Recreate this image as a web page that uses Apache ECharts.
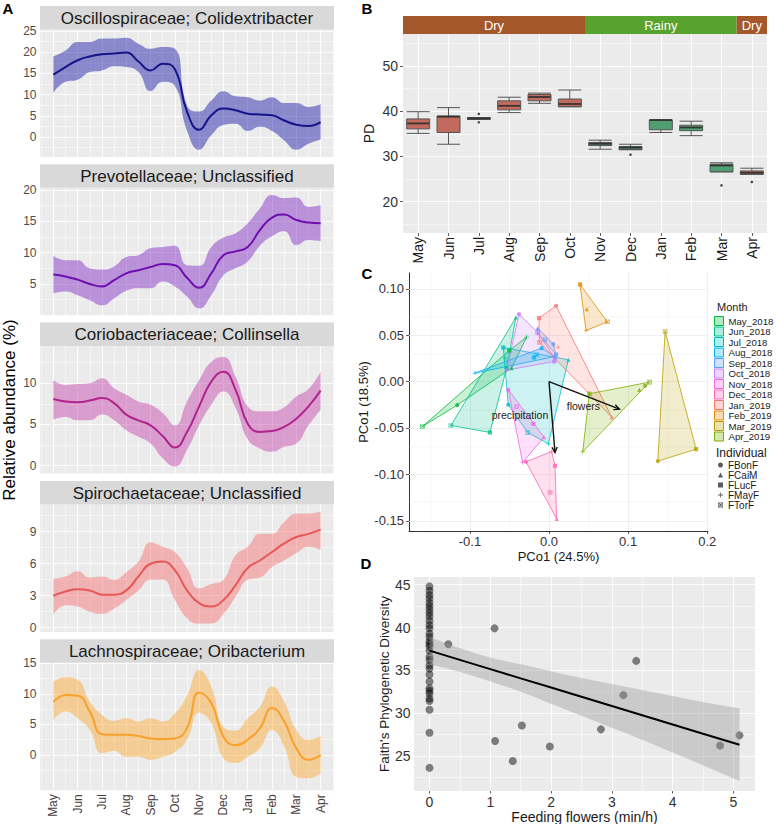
<!DOCTYPE html>
<html>
<head>
<meta charset="utf-8">
<script src="https://cdn.jsdelivr.net/npm/echarts@6.0.0/dist/echarts.min.js"></script>
<style>
html,body{margin:0;padding:0;background:#ffffff;}
#chart{width:776px;height:824px;}
</style>
</head>
<body>
<div id="chart"></div>
<script>
// ================= DATA =================
// ---- Panel A: smoothed relative abundance (fit, upper, lower) ----
const monthLabels = ['May','Jun','Jul','Aug','Sep','Oct','Nov','Dec','Jan','Feb','Mar','Apr'];
const monthTicks = [0,1,2,3,4,5,6,7,8,9,10,11];
const monthMinorTicks = [-0.5,0.5,1.5,2.5,3.5,4.5,5.5,6.5,7.5,8.5,9.5,10.5,11.5];
const aSampleX = [0,0.5,1,1.5,2,2.5,3,3.5,4,4.5,5,5.5,6,6.5,7,7.5,8,8.5,9,9.5,10,10.5,11];
const aTitles = ['Oscillospiraceae; Colidextribacter','Prevotellaceae; Unclassified','Coriobacteriaceae; Collinsella','Spirochaetaceae; Unclassified','Lachnospiraceae; Oribacterium'];

const oscFit   = [14.7,16.5,18.1,19.0,19.5,19.7,19.9,17.8,15.7,17.3,16.0,6.0,1.7,5.1,6.7,6.3,5.5,5.3,5.1,3.9,2.9,2.6,3.5];
const oscHigh  = [19.0,20.4,22.4,22.4,23.2,23.2,23.4,22.0,20.8,21.2,20.8,7.5,6.0,8.6,10.8,9.6,9.4,8.6,9.4,8.0,8.0,7.1,7.7];
const oscLow   = [10.4,13.0,13.5,15.3,15.7,16.7,16.5,15.3,10.8,13.0,12.0,1.5,-3.0,0.4,2.8,3.1,1.4,2.4,1.4,-0.8,-3.0,-1.6,-0.6];

const prevFit  = [6.5,6.2,5.7,5.0,4.6,5.6,6.7,7.2,7.7,8.2,8.0,6.0,4.4,6.7,9.6,10.2,10.9,13.6,15.6,16.1,15.2,14.8,14.7];
const prevHigh = [9.5,8.8,8.8,7.5,7.3,7.8,9.3,9.6,10.7,10.9,11.1,8.0,7.9,10.9,12.4,13.1,14.7,17.1,19.2,18.7,18.8,17.3,17.6];
const prevLow  = [3.5,3.8,3.2,2.4,1.6,2.7,3.9,4.3,4.3,5.4,4.6,3.0,1.1,3.2,6.4,7.5,8.6,11.1,12.6,13.4,11.2,12.0,11.8];

const corioFit  = [8.1,7.8,7.7,7.9,8.2,7.6,6.2,5.5,4.9,3.6,2.2,4.1,7.2,10.2,11.4,9.2,5.1,4.1,4.2,4.7,5.7,7.2,9.1];
const corioHigh = [10.4,9.8,9.9,10.0,10.6,9.4,8.6,7.8,7.4,6.4,4.9,7.8,10.4,12.6,13.2,10.8,7.2,6.6,6.6,7.1,8.4,9.3,11.4];
const corioLow  = [5.6,5.9,5.5,5.5,6.2,5.5,4.3,3.5,2.7,0.9,-0.1,1.9,4.9,7.4,9.0,7.0,3.2,2.1,1.7,2.3,2.7,4.9,6.8];

const spiroFit  = [3.0,3.4,3.6,3.5,3.1,3.1,3.5,4.8,6.0,6.2,5.4,3.5,2.3,2.0,2.6,4.0,5.6,6.3,7.1,7.9,8.5,8.8,9.2];
const spiroHigh = [4.6,4.8,5.3,4.7,4.8,4.5,5.2,6.2,8.0,7.6,7.1,5.6,3.7,4.1,4.5,6.8,7.6,8.8,8.8,9.9,10.7,10.7,10.9];
const spiroLow  = [1.2,2.1,2.0,1.5,1.3,1.8,2.6,3.5,4.5,4.5,2.6,0.9,0.4,0.4,1.3,2.9,4.5,4.7,5.7,6.3,7.0,7.6,7.3];

const lachnoFit  = [8.7,9.8,9.7,7.1,3.4,3.3,3.3,3.1,2.7,2.6,2.7,4.4,10.2,8.5,3.0,1.6,2.5,4.4,7.7,5.5,1.1,-0.8,0.0];
const lachnoHigh = [12.0,12.7,12.3,8.7,6.6,5.6,6.0,5.5,6.0,5.5,6.8,9.7,13.9,11.2,4.6,4.0,6.0,7.9,11.2,8.7,4.1,2.5,3.1];
const lachnoLow  = [5.7,7.1,6.0,4.1,0.3,0.7,-0.3,-0.3,-0.8,-0.3,0.5,2.5,6.9,5.2,-0.5,-1.3,-0.3,1.1,4.1,1.4,-3.6,-3.8,-3.0];

const aYTicks = [[0,5,10,15,20,25],[5,10,15,20],[0,5,10],[0,3,6,9],[0,5,10,15]];
const aYMinorTicks = [[-2.5,2.5,7.5,12.5,17.5,22.5],[2.5,7.5,12.5,17.5],[2.5,7.5,12.5],[1.5,4.5,7.5,10.5],[-2.5,2.5,7.5,12.5]];

// ---- Panel B: PD boxplots ----
const bSeason = ['Dry','Dry','Dry','Dry','Dry','Dry','Rainy','Rainy','Rainy','Rainy','Rainy','Dry'];
const bMin    = [35.1,32.7,38.2,39.7,41.75,41.0,31.6,31.5,35.3,34.6,26.6,26.05];
const bQ1     = [36.1,35.3,38.2,40.3,42.3,41.0,32.4,31.5,35.9,35.7,26.6,26.05];
const bMedian = [37.3,38.8,38.4,41.2,43.15,41.6,32.8,31.95,38.05,36.4,28.0,26.4];
const bQ3     = [38.3,38.95,38.6,42.3,43.7,42.7,33.1,32.2,38.05,36.9,28.3,26.8];
const bMax    = [39.9,40.8,38.6,43.1,44.0,44.7,33.6,32.7,38.05,37.8,28.6,27.4];
const bOutlierMonth = [2,2,7,10,11];
const bOutlierPD    = [39.4,37.55,30.4,23.6,24.35];
const bYTicks = [20,30,40,50];
const bYMinorTicks = [15,25,35,45,55];

// ---- Panel C: PCoA ----
const cMonths = ['May_2018','Jun_2018','Jul_2018','Aug_2018','Sep_2018','Oct_2018','Nov_2018','Dec_2018','Jan_2019','Feb_2019','Mar_2019','Apr_2019'];
const cIndividuals = ['FBonF','FCaiM','FLucF','FMayF','FTorF'];
// one entry per month (same order as cMonths), [PCo1, PCo2]
const cFBonF = [[-0.116,-0.0253],[-0.0536,0.0145],[-0.0515,-0.025],[-0.0093,0.036],[0.0055,0.0404],[-0.038,0.0727],[-0.0515,-0.0088],[-0.0291,-0.0864],[0.0089,0.0817],null,[0.1376,-0.0857],[0.1215,-0.0045]];
const cFCaiM = [[-0.0473,0.0145],[-0.0418,0.0691],[0.0245,0.0235],[0.0076,0.027],[-0.0143,0.0577],[0.0076,0.0255],[-0.0063,-0.0598],[0.0097,-0.148],[0.0793,-0.0383],[0.0477,0.078],null,[0.1143,-0.0089]];
const cFLucF = [[-0.0502,0.0335],[-0.0747,-0.0548],[-0.0578,0.0368],[-0.019,0.026],[0.0089,0.029],[0.0068,0.0217],[-0.0198,-0.0455],[0.0076,-0.0907],[-0.0127,0.0684],[0.0392,0.1047],[0.186,-0.0728],[0.051,-0.0131]];
const cFMayF = [[-0.0283,0.0479],[-0.0557,0.0253],[-0.0008,-0.067],[-0.0937,0.0092],[-0.0143,0.0522],[-0.0537,0.0123],[-0.0333,-0.0872],[0.0034,-0.0753],[0.0114,0.0372],[0.0468,0.055],null,[0.0426,-0.0757]];
const cFTorF = [[-0.160,-0.0484],[-0.124,-0.0473],[-0.027,-0.0548],[-0.0156,0.0289],[-0.005,0.045],[-0.0143,0.053],[-0.041,-0.0268],[0.0013,-0.1195],[-0.0122,0.0421],[0.0738,0.0644],[0.1468,0.054],[0.127,-0.0006]];
const cArrowNames = ['precipitation','flowers'];
const cArrowEnd = [[0.0076,-0.0764],[0.089,-0.0297]];
const cArrowLabelAt = [[-0.0367,-0.0358],[0.0434,-0.0261]];
const cXTicks = [-0.1,0,0.1,0.2];
const cXMinorTicks = [-0.15,-0.05,0.05,0.15];
const cYTicks = [-0.15,-0.1,-0.05,0,0.05,0.1];
const cYMinorTicks = [-0.125,-0.075,-0.025,0.025,0.075];

// ---- Panel D: Faith's PD vs feeding flowers ----
const dFeeding = [0,0,0,0,0,0,0,0,0,0,0,0,0,0,0,0,0,0,0,0,0,0,0,0,0,0,0,0,0,0,0,0,
  0.31,1.07,1.08,1.37,1.52,1.98,2.82,3.19,3.40,4.78,5.10];
const dFaith = [44.8,44.3,43.8,43.4,42.9,42.5,42.1,41.7,41.3,40.8,40.3,39.9,39.3,38.9,38.4,38.1,37.8,37.3,36.6,36.2,35.6,35.2,34.5,33.7,32.9,32.6,32.3,31.7,31.4,30.4,27.7,23.6,
  38.05,39.9,26.75,24.4,28.55,26.1,28.1,32.1,36.1,26.2,27.4];
const dFitX    = [0,0.5,1,1.5,2,2.5,3,3.5,4,4.5,5.1];
const dFitY    = [37.3,36.22,35.14,34.06,32.99,31.91,30.83,29.75,28.67,27.59,26.3];
const dFitHigh = [38.9,37.6,36.5,35.7,34.9,34.1,33.4,32.7,32.0,31.3,30.55];
const dFitLow  = [35.7,34.8,33.7,32.5,31.1,29.7,28.3,26.9,25.4,23.9,22.05];
const dXTicks = [0,1,2,3,4,5];
const dXMinorTicks = [0.5,1.5,2.5,3.5,4.5];
const dYTicks = [25,30,35,40,45];
const dYMinorTicks = [22.5,27.5,32.5,37.5,42.5];

// ================= STYLE / LAYOUT =================
const FONT = '"Liberation Sans", Arial, Helvetica, sans-serif';
const NARROW = '"Liberation Sans Narrow", "Liberation Sans", Arial, sans-serif';
const aFits = [oscFit, prevFit, corioFit, spiroFit, lachnoFit];
const aHighs = [oscHigh, prevHigh, corioHigh, spiroHigh, lachnoHigh];
const aLows = [oscLow, prevLow, corioLow, spiroLow, lachnoLow];
const aLineColors = ['#15158a','#6d0fae','#b0238e','#e85757','#f7a12b'];
const aRibbonColors = ['rgba(0,0,160,0.42)','rgba(110,10,190,0.40)','rgba(190,40,160,0.40)','rgba(245,90,90,0.40)','rgba(255,160,30,0.42)'];
const aYRange = [[-4.72,25.35],[0,20.35],[-0.96,14.51],[-0.39,11.56],[-5.76,15.1]];
const A_LEFT = 40, A_W = 294, A_TOP0 = 6, A_PITCH = 158.3, A_STRIP = 23.5, A_H = 127.5;
const B_GRID = {left: 403, top: 34, width: 364, height: 199};
const C_GRID = {left: 409, top: 273, width: 299, height: 258};
const D_GRID = {left: 414, top: 577, width: 341, height: 214};
const cColors = ['#00BA38','#00C08B','#00BFC4','#00B4F0','#619CFF','#C77CFF','#F564E3','#FF64B0','#F8766D','#DE8C00','#B79F00','#7CAE00'];
const seasonColors = {Dry: '#a3572b', Rainy: '#58a22e'};
const boxColors = {Dry: '#c26a5d', Rainy: '#4f9f72'};
const PLUS = 'path://M4.2,0H5.8V4.2H10V5.8H5.8V10H4.2V5.8H0V4.2H4.2Z';
const BOXX = 'path://M0,0H10V10H0Z M1.4,1.4V8.6H8.6V1.4Z M1.4,2.4L2.4,1.4L8.6,7.6L7.6,8.6Z M7.6,1.4L8.6,2.4L2.4,8.6L1.4,7.6Z';
const cSymbols = ['circle','triangle','rect',PLUS,BOXX];
const cPointsByInd = [cFBonF, cFCaiM, cFLucF, cFMayF, cFTorF];

function hexA(hex, a) {
  const r = parseInt(hex.slice(1,3),16), g = parseInt(hex.slice(3,5),16), b = parseInt(hex.slice(5,7),16);
  return 'rgba(' + r + ',' + g + ',' + b + ',' + a + ')';
}
function gridLines(xMaj, xMin, yMaj, yMin, color, wMaj, wMin) {
  const data = [];
  xMin.forEach(v => data.push({xAxis: v, lineStyle: {width: wMin, color: color, type: 'solid'}}));
  yMin.forEach(v => data.push({yAxis: v, lineStyle: {width: wMin, color: color, type: 'solid'}}));
  xMaj.forEach(v => data.push({xAxis: v, lineStyle: {width: wMaj, color: color, type: 'solid'}}));
  yMaj.forEach(v => data.push({yAxis: v, lineStyle: {width: wMaj, color: color, type: 'solid'}}));
  return {silent: true, symbol: ['none','none'], z: 1, animation: false, label: {show: false},
    emphasis: {disabled: true}, lineStyle: {color: color, type: 'solid'}, data: data};
}
function hull(pts) {
  const p = pts.slice().sort((a,b) => a[0]-b[0] || a[1]-b[1]);
  if (p.length < 3) return p;
  const cross = (o,a,b) => (a[0]-o[0])*(b[1]-o[1]) - (a[1]-o[1])*(b[0]-o[0]);
  const lower = [], upper = [];
  for (const q of p) { while (lower.length >= 2 && cross(lower[lower.length-2], lower[lower.length-1], q) <= 0) lower.pop(); lower.push(q); }
  for (let i = p.length-1; i >= 0; i--) { const q = p[i]; while (upper.length >= 2 && cross(upper[upper.length-2], upper[upper.length-1], q) <= 0) upper.pop(); upper.push(q); }
  upper.pop(); lower.pop();
  return lower.concat(upper);
}

const grids = [], xAxes = [], yAxes = [], series = [], graphics = [];

// ================= PANEL A =================
for (let k = 0; k < 5; k++) {
  const top = A_TOP0 + k * A_PITCH + A_STRIP;
  grids.push({left: A_LEFT, top: top, width: A_W, height: A_H, show: true, backgroundColor: '#ebebeb', borderWidth: 0, outerBoundsMode: 'none'});
  const last = (k === 4);
  xAxes.push({type: 'value', gridIndex: k, min: -0.55, max: 11.55,
    axisLine: {show: false}, splitLine: {show: false},
    axisTick: {show: last, length: 2.5, customValues: monthTicks, lineStyle: {color: '#333', width: 0.8}},
    axisLabel: {show: last, customValues: monthTicks, rotate: 90, margin: 4, fontSize: 12, fontFamily: FONT, color: '#4a3d3d',
      formatter: v => monthLabels[Math.round(v)]}});
  yAxes.push({type: 'value', gridIndex: k, min: aYRange[k][0], max: aYRange[k][1],
    axisLine: {show: false}, splitLine: {show: false},
    axisTick: {show: true, length: 2.5, customValues: aYTicks[k], lineStyle: {color: '#333', width: 0.8}},
    axisLabel: {customValues: aYTicks[k], margin: 3.5, fontSize: 12, fontFamily: FONT, color: '#4d4d4d'}});
  const low = aLows[k], high = aHighs[k], fit = aFits[k];
  series.push({type: 'line', xAxisIndex: k, yAxisIndex: k, stack: 'ribA' + k, stackStrategy: 'all',
    encode: {x: 1, y: 0}, data: aSampleX.map((x,i) => [low[i], x]),
    smooth: true, symbol: 'none', silent: true, lineStyle: {opacity: 0, width: 0}, z: 2});
  series.push({type: 'line', xAxisIndex: k, yAxisIndex: k, stack: 'ribA' + k, stackStrategy: 'all',
    encode: {x: 1, y: 0}, data: aSampleX.map((x,i) => [high[i] - low[i], x]),
    smooth: true, symbol: 'none', silent: true, lineStyle: {opacity: 0, width: 0},
    areaStyle: {color: aRibbonColors[k], opacity: 1}, z: 2});
  series.push({type: 'line', xAxisIndex: k, yAxisIndex: k, name: aTitles[k],
    data: aSampleX.map((x,i) => [x, fit[i]]), smooth: true, symbol: 'none', silent: true,
    lineStyle: {color: aLineColors[k], width: 2}, z: 3,
    markLine: gridLines(monthTicks, monthMinorTicks, aYTicks[k], aYMinorTicks[k], '#ffffff', 0.9, 0.5)});
  const sTop = A_TOP0 + k * A_PITCH;
  graphics.push({type: 'rect', silent: true, shape: {x: A_LEFT, y: sTop, width: A_W, height: A_STRIP}, style: {fill: '#d9d9d9'}});
  graphics.push({type: 'text', silent: true, x: A_LEFT + A_W / 2, y: sTop + A_STRIP / 2 + 0.5,
    style: {text: aTitles[k], fontSize: 17, fontFamily: FONT, fill: '#1a1a1a', align: 'center', verticalAlign: 'middle'}});
}
graphics.push({type: 'text', silent: true, x: 9, y: 410, rotation: Math.PI / 2,
  style: {text: 'Relative abundance (%)', fontSize: 17, fontFamily: FONT, fill: '#000', align: 'center', verticalAlign: 'middle'}});

// ================= PANEL B =================
grids.push(Object.assign({show: true, backgroundColor: '#ebebeb', borderWidth: 0, outerBoundsMode: 'none'}, B_GRID));
xAxes.push({type: 'category', gridIndex: 5, data: monthLabels, boundaryGap: true,
  axisLine: {show: false}, splitLine: {show: false},
  axisTick: {show: true, alignWithLabel: true, length: 3, lineStyle: {color: '#333', width: 0.8}},
  axisLabel: {rotate: 90, margin: 4, fontSize: 14, fontFamily: FONT, color: '#1a1a1a', interval: 0}});
yAxes.push({type: 'value', gridIndex: 5, min: 13.07, max: 57.08,
  axisLine: {show: false}, splitLine: {show: false},
  axisTick: {show: true, length: 3, customValues: bYTicks, lineStyle: {color: '#333', width: 0.8}},
  axisLabel: {customValues: bYTicks, margin: 5, fontSize: 14, fontFamily: FONT, color: '#333'},
  name: 'PD', nameLocation: 'middle', nameGap: 27, nameTextStyle: {fontSize: 14, fontFamily: FONT, color: '#1a1a1a'}});
series.push({type: 'boxplot', xAxisIndex: 5, yAxisIndex: 5, silent: true, boxWidth: [23, 23],
  itemStyle: {borderColor: '#555', borderWidth: 1},
  data: monthLabels.map((m,i) => ({value: [bMin[i], bQ1[i], bMedian[i], bQ3[i], bMax[i]], itemStyle: {color: boxColors[bSeason[i]], borderColor: '#555'}})),
  z: 3,
  markLine: gridLines(monthTicks, [], bYTicks, bYMinorTicks, '#ffffff', 0.9, 0.5)});
series.push({type: 'scatter', xAxisIndex: 5, yAxisIndex: 5, silent: true, symbol: 'rect', symbolSize: [22, 1.8],
  itemStyle: {color: '#2a2a2a'}, data: monthLabels.map((m,i) => [i, bMedian[i]]), z: 4});
series.push({type: 'scatter', xAxisIndex: 5, yAxisIndex: 5, silent: true, symbol: 'circle', symbolSize: 2.6,
  itemStyle: {color: '#1a1a1a'}, data: bOutlierMonth.map((m,i) => [m, bOutlierPD[i]]), z: 4});
// season strip
(function () {
  const band = B_GRID.width / monthLabels.length;
  let start = 0;
  for (let i = 1; i <= bSeason.length; i++) {
    if (i === bSeason.length || bSeason[i] !== bSeason[start]) {
      const x0 = B_GRID.left + start * band, w = (i - start) * band;
      graphics.push({type: 'rect', silent: true, shape: {x: x0, y: 16, width: w, height: 18}, style: {fill: seasonColors[bSeason[start]]}});
      graphics.push({type: 'text', silent: true, x: x0 + w / 2, y: 25.5,
        style: {text: bSeason[start], fontSize: 13, fontFamily: NARROW, fill: '#ffffff', align: 'center', verticalAlign: 'middle'}});
      start = i;
    }
  }
})();

// ================= PANEL C =================
grids.push(Object.assign({show: false, outerBoundsMode: 'none'}, C_GRID));
xAxes.push({type: 'value', gridIndex: 6, min: -0.177, max: 0.201,
  axisLine: {show: true, onZero: false, lineStyle: {color: '#333', width: 1}}, splitLine: {show: false},
  axisTick: {show: true, length: 3, customValues: cXTicks, lineStyle: {color: '#333', width: 0.8}},
  axisLabel: {customValues: cXTicks, margin: 4, fontSize: 13, fontFamily: FONT, color: '#333', formatter: v => v.toFixed(1)},
  name: 'PCo1 (24.5%)', nameLocation: 'middle', nameGap: 19, nameTextStyle: {fontSize: 13, fontFamily: FONT, color: '#1a1a1a'}});
yAxes.push({type: 'value', gridIndex: 6, min: -0.161, max: 0.117,
  axisLine: {show: true, onZero: false, lineStyle: {color: '#333', width: 1}}, splitLine: {show: false},
  axisTick: {show: true, length: 3, customValues: cYTicks, lineStyle: {color: '#333', width: 0.8}},
  axisLabel: {customValues: cYTicks, margin: 5, fontSize: 13, fontFamily: FONT, color: '#333', formatter: v => v.toFixed(2)},
  name: 'PCo1 (18.5%)', nameLocation: 'middle', nameGap: 37, nameTextStyle: {fontSize: 13, fontFamily: FONT, color: '#1a1a1a'}});
// hulls, one custom series per month
cMonths.forEach((m, mi) => {
  const pts = cPointsByInd.map(arr => arr[mi]).filter(p => p);
  const hp = hull(pts);
  series.push({type: 'custom', name: m, xAxisIndex: 6, yAxisIndex: 6, silent: true, z: 2,
    itemStyle: {color: cColors[mi]},
    data: pts,
    renderItem: (params, api) => {
      if (params.dataIndex !== 0) return null;
      return {type: 'polygon', shape: {points: hp.map(p => api.coord(p))},
        style: {fill: hexA(cColors[mi], 0.2), stroke: cColors[mi], lineWidth: 0.8}};
    },
    markLine: mi === 0 ? gridLines(cXTicks, cXMinorTicks, cYTicks, cYMinorTicks, '#ebebeb', 0.8, 0.4) : undefined});
});
// points, one scatter series per individual
cIndividuals.forEach((ind, ii) => {
  series.push({type: 'scatter', name: ind, xAxisIndex: 6, yAxisIndex: 6, silent: true, z: 3,
    symbol: cSymbols[ii], symbolSize: ii === 3 || ii === 4 ? 4.6 : 4.2,
    itemStyle: {color: '#333'},
    data: cPointsByInd[ii].map((p, mi) => p ? {value: p, itemStyle: {color: cColors[mi]}} : null).filter(d => d)});
});
// environmental arrows
series.push({type: 'custom', xAxisIndex: 6, yAxisIndex: 6, silent: true, z: 4,
  data: cArrowEnd.map((p, i) => [p[0], p[1], i]),
  renderItem: (params, api) => {
    const i = params.dataIndex;
    const p0 = api.coord([0, 0]);
    const p1 = api.coord([cArrowEnd[i][0], cArrowEnd[i][1]]);
    const ang = Math.atan2(p1[1] - p0[1], p1[0] - p0[0]);
    const L = 6, sp = 0.45;
    const h1 = [p1[0] - L * Math.cos(ang - sp), p1[1] - L * Math.sin(ang - sp)];
    const h2 = [p1[0] - L * Math.cos(ang + sp), p1[1] - L * Math.sin(ang + sp)];
    const lp = api.coord(cArrowLabelAt[i]);
    return {type: 'group', children: [
      {type: 'line', shape: {x1: p0[0], y1: p0[1], x2: p1[0], y2: p1[1]}, style: {stroke: '#111', lineWidth: 1.4}},
      {type: 'polyline', shape: {points: [h1, p1, h2]}, style: {stroke: '#111', lineWidth: 1.4, fill: null}},
      {type: 'text', x: lp[0], y: lp[1], style: {text: cArrowNames[i], fontSize: 10.5, fontFamily: FONT, fill: '#1a1a1a', align: 'center', verticalAlign: 'middle'}}
    ]};
  }});

// ================= PANEL D =================
grids.push(Object.assign({show: true, backgroundColor: '#ebebeb', borderWidth: 0, outerBoundsMode: 'none'}, D_GRID));
xAxes.push({type: 'value', gridIndex: 7, min: -0.255, max: 5.355,
  axisLine: {show: false}, splitLine: {show: false},
  axisTick: {show: true, length: 2.5, customValues: dXTicks, lineStyle: {color: '#333', width: 0.8}},
  axisLabel: {customValues: dXTicks, margin: 4, fontSize: 14, fontFamily: FONT, color: '#333'},
  name: 'Feeding flowers (min/h)', nameLocation: 'middle', nameGap: 19, nameTextStyle: {fontSize: 14, fontFamily: FONT, color: '#1a1a1a'}});
yAxes.push({type: 'value', gridIndex: 7, min: 20.9, max: 45.9,
  axisLine: {show: false}, splitLine: {show: false},
  axisTick: {show: true, length: 2.5, customValues: dYTicks, lineStyle: {color: '#333', width: 0.8}},
  axisLabel: {customValues: dYTicks, margin: 3.5, fontSize: 14, fontFamily: FONT, color: '#333'},
  name: "Faith's Phylogenetic Diversity", nameLocation: 'middle', nameGap: 21, nameTextStyle: {fontSize: 13.5, fontFamily: FONT, color: '#1a1a1a'}});
series.push({type: 'scatter', xAxisIndex: 7, yAxisIndex: 7, silent: true, symbol: 'circle', symbolSize: 8,
  itemStyle: {color: 'rgba(0,0,0,0.6)'}, data: dFeeding.map((x, i) => [x, dFaith[i]]), z: 2,
  markLine: gridLines(dXTicks, dXMinorTicks, dYTicks, dYMinorTicks, '#ffffff', 0.9, 0.5)});
series.push({type: 'line', xAxisIndex: 7, yAxisIndex: 7, stack: 'ribD', stackStrategy: 'all', encode: {x: 1, y: 0},
  data: dFitX.map((x, i) => [dFitLow[i], x]), smooth: true, symbol: 'none', silent: true, lineStyle: {opacity: 0, width: 0}, z: 3});
series.push({type: 'line', xAxisIndex: 7, yAxisIndex: 7, stack: 'ribD', stackStrategy: 'all', encode: {x: 1, y: 0},
  data: dFitX.map((x, i) => [dFitHigh[i] - dFitLow[i], x]), smooth: true, symbol: 'none', silent: true,
  lineStyle: {opacity: 0, width: 0}, areaStyle: {color: 'rgba(153,153,153,0.4)', opacity: 1}, z: 3});
series.push({type: 'line', xAxisIndex: 7, yAxisIndex: 7, data: dFitX.map((x, i) => [x, dFitY[i]]), symbol: 'none', silent: true,
  lineStyle: {color: '#000', width: 2}, z: 4});

// ================= LABELS / LEGENDS =================
[['A', 8, 8.5], ['B', 367, 8.5], ['C', 367, 273], ['D', 366, 563]].forEach(t => graphics.push({type: 'text', silent: true, x: t[1], y: t[2],
  style: {text: t[0], fontSize: 15, fontWeight: 'bold', fontFamily: FONT, fill: '#000', align: 'center', verticalAlign: 'middle'}}));
graphics.push({type: 'text', silent: true, x: 717, y: 306.7, style: {text: 'Month', fontSize: 11, fontFamily: FONT, fill: '#1a1a1a', align: 'left', verticalAlign: 'middle'}});
graphics.push({type: 'text', silent: true, x: 716, y: 452.5, style: {text: 'Individual', fontSize: 12, fontFamily: FONT, fill: '#1a1a1a', align: 'left', verticalAlign: 'middle'}});

const option = {
  animation: false,
  textStyle: {fontFamily: FONT},
  grid: grids, xAxis: xAxes, yAxis: yAxes, series: series, graphic: graphics,
  legend: [
    {orient: 'vertical', left: 714, top: 316, itemWidth: 9, itemHeight: 9, itemGap: 0.5, selectedMode: false, padding: 0,
      textStyle: {fontSize: 9.6, lineHeight: 9, fontFamily: FONT, color: '#1a1a1a'},
      data: cMonths.map((m, i) => ({name: m, icon: 'rect', itemStyle: {color: hexA(cColors[i], 0.3), borderColor: cColors[i], borderWidth: 1}}))},
    {orient: 'vertical', left: 718, top: 460, itemWidth: 5, itemHeight: 5, itemGap: 0, selectedMode: false, padding: 0,
      textStyle: {fontSize: 10, lineHeight: 9.4, fontFamily: FONT, color: '#1a1a1a'},
      data: cIndividuals.map((n, i) => ({name: n, icon: cSymbols[i], itemStyle: {color: '#333', borderWidth: 0}}))}
  ]
};
const chart = echarts.init(document.getElementById('chart'), null, {renderer: 'svg', width: 776, height: 824});
chart.setOption(option);
</script>
</body>
</html>
